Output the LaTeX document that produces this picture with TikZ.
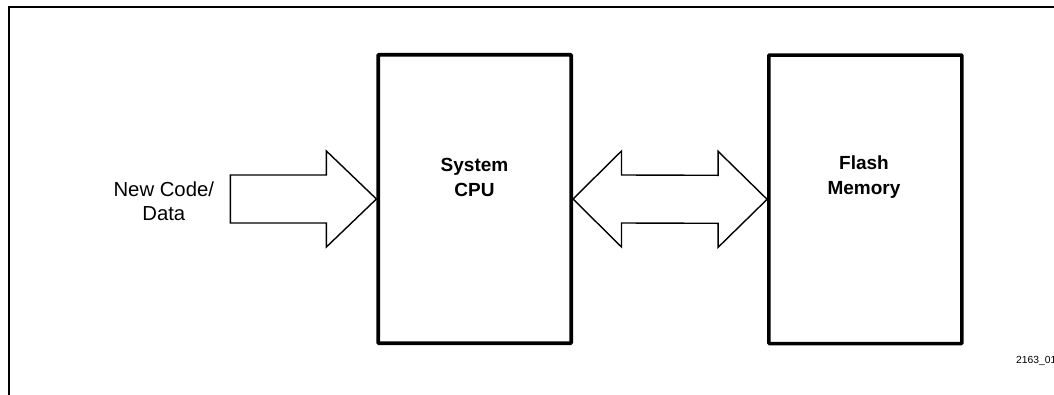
\documentclass[tikz,border=0pt]{standalone}
\usepackage{fontspec}
\setmainfont{Liberation Sans}
\usetikzlibrary{calc}
\begin{document}
\begin{tikzpicture}[x=1pt,y=-1pt,
  frameline/.style={line width=2pt},
  unitbox/.style={draw,line width=3.6pt,rounded corners=0.8pt,minimum width=193pt,minimum height=288.5pt,inner sep=0pt},
  boxtext/.style={font=\fontsize{19}{25}\selectfont\bfseries,align=center,inner sep=0pt},
  sidetext/.style={font=\fontsize{20.3}{24.5}\selectfont,align=center,inner sep=0pt},
  fatarrow/.style={draw,line width=1.4pt,fill=white,line join=miter},
  figid/.style={font=\fontsize{10.3}{12}\selectfont,inner sep=0pt,anchor=base west}]
  % page area
  \useasboundingbox (0,0) rectangle (1054,394);
  \fill[white] (0,0) rectangle (1054,394);
  % outer frame (continues past the right and bottom edges)
  \draw[frameline] (9,400) -- (9,7) -- (1060,7);

  % the two blocks
  \node[unitbox] (cpu) at (474.7,199) {};
  \node[unitbox] (flash) at (865.4,199.3) {};
  \node[boxtext] (cputext) at (474.5,177) {System\\CPU};
  \node[boxtext] (flashtext) at (864,177) {Flash\\Memory};

  % input label
  \node[sidetext] (input) at (163.8,201) {New Code/\\Data};

  % wide arrow into the CPU
  \draw[fatarrow]
    ($(cpu.west)+(-146,-24)$) -- ($(cpu.west)+(-50,-24)$) -- ($(cpu.west)+(-50,-48)$)
    -- (cpu.west) -- ($(cpu.west)+(-50,48)$) -- ($(cpu.west)+(-50,24)$)
    -- ($(cpu.west)+(-146,24)$) -- cycle;

  % two-way bus arrow between CPU and flash
  \draw[fatarrow]
    (cpu.east) -- ($(cpu.east)+(48.5,-48)$) -- ($(cpu.east)+(48.5,-24)$)
    -- ($(flash.west)+(-49,-24)$) -- ($(flash.west)+(-49,-48)$) -- (flash.west)
    -- ($(flash.west)+(-49,48)$) -- ($(flash.west)+(-49,24)$)
    -- ($(cpu.east)+(48.5,24)$) -- ($(cpu.east)+(48.5,48)$) -- cycle;

  % figure number
  \node[figid] (fignum) at (1016,363.5) {2163\_01};
\end{tikzpicture}
\end{document}
